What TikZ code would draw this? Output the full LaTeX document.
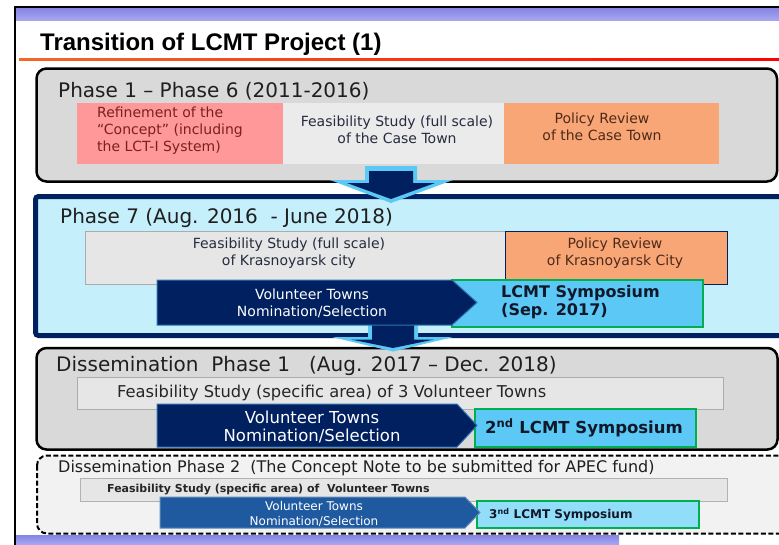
\documentclass[tikz,border=0pt]{standalone}
\usepackage{fontspec}
\setmainfont{DejaVu Sans}
\newfontfamily\titlefont{Liberation Sans}
\usetikzlibrary{calc}

\definecolor{navy}{HTML}{002060}
\definecolor{edgeblue}{HTML}{2E75B6}
\definecolor{midblue}{HTML}{1F5AA0}
\definecolor{skyblue}{HTML}{5BC8F5}
\definecolor{lightsky}{HTML}{92DDF8}
\definecolor{paleblue}{HTML}{C6EFFC}
\definecolor{phasegray}{HTML}{D9D9D9}
\definecolor{boxgray}{HTML}{E6E6E6}
\definecolor{lightgray}{HTML}{EBEBEB}
\definecolor{dashgray}{HTML}{F2F2F2}
\definecolor{salmon}{HTML}{F9A677}
\definecolor{rosebox}{HTML}{FF9999}
\definecolor{symgreen}{HTML}{00B050}
\definecolor{bandtop}{HTML}{8484E4}
\definecolor{bandbot}{HTML}{A6A6F0}
\definecolor{lineorange}{HTML}{F06A28}
\definecolor{textnavy}{HTML}{262C40}
\definecolor{darkred}{HTML}{7B1F1F}
\definecolor{darkbrown}{HTML}{4D2A1A}
\definecolor{symink}{HTML}{10182A}

\begin{document}
\begin{tikzpicture}[x=1pt, y=-1pt,
   plabel/.style={anchor=base west, inner sep=0pt, text=black!88, font=\fontsize{20}{24}\selectfont},
   intext/.style={inner sep=0pt, align=center, text=textnavy, font=\fontsize{14}{17}\selectfont},
   symtext/.style={inner sep=0pt, align=left, text=symink, font=\bfseries\fontsize{16}{18.5}\selectfont},
   voltext/.style={inner sep=0pt, align=center, text=white},
   phasebox/.style={draw=black, line width=2.5pt, fill=phasegray, rounded corners=10pt},
   greybox/.style={draw=gray!65, line width=0.8pt, fill=boxgray},
   symbox/.style={draw=symgreen, line width=2pt, fill=skyblue},
   volarrow/.style={draw=edgeblue, line width=1pt, fill=navy}]
   \useasboundingbox (0,0) rectangle (779,544);
   \fill[white] (0,0) rectangle (779,544);
   % slide frame and title
   \shade[top color=bandtop, bottom color=bandbot] (15.6,7.6) rectangle (790,20);
   \shade[top color=bandtop, bottom color=bandbot] (15.6,535) rectangle (619,544);
   \draw[line width=1.2pt] (15,546) -- (15,7) -- (790,7);
   \node (title) [anchor=base west, inner sep=0pt, font=\titlefont\bfseries\fontsize{24}{28}\selectfont] at (40,50) {Transition of LCMT Project (1)};
   \shade[left color=lineorange, right color=red] (19,58) rectangle (790,60.5);
   % phase frames
   \draw[phasebox] (36.5,68.5) rectangle (777,181.5);
   \draw[draw=navy, line width=5pt, fill=paleblue, rounded corners=3pt] (35.5,196.5) rectangle (795,335.5);
   \draw[phasebox] (36.5,348) rectangle (777.5,449.5);
   \draw[draw=black, line width=2pt, fill=dashgray, rounded corners=10pt, dash pattern=on 5pt off 2.5pt] (37,455.5) rectangle (795,533.5);
   % block arrows between phases
   \fill[skyblue] (365,166) -- (417,166) -- (417,180) -- (453,180) -- (391,203) -- (330,180) -- (365,180) -- cycle;
   \fill[navy] (369,171) -- (413,171) -- (413,183) -- (435,183) -- (391,199) -- (347,183) -- (369,183) -- cycle;
   \fill[skyblue] (368,318) -- (418,318) -- (418,337) -- (453,337) -- (393,351.5) -- (332,337) -- (368,337) -- cycle;
   \fill[navy] (372,318) -- (414,318) -- (414,339.5) -- (434,339.5) -- (393,348) -- (351,339.5) -- (372,339.5) -- cycle;
   % phase 1 - phase 6
   \node (p1) [plabel] at (58,97) {Phase 1 – Phase 6 (2011-2016)};
   \fill[rosebox] (77,103) rectangle (283,164);
   \fill[lightgray] (283,103) rectangle (504,164);
   \fill[salmon] (504,103) rectangle (719,164);
   \node (refine) [intext, anchor=west, align=left, text=darkred] at (97,131) {Refinement of the\\“Concept” (including\\the LCT-I System)};
   \node (fscase) [intext] at (397,130) {Feasibility Study (full scale)\\of the Case Town};
   \node (prcase) [intext, text=darkbrown] at (602,127) {Policy Review\\of the Case Town};
   % phase 7
   \node (p7) [plabel] at (60,223) {Phase 7 (Aug. 2016\ \ - June 2018)};
   \draw[greybox] (85,231) rectangle (505,284);
   \draw[fill=salmon, draw=navy, line width=0.8pt] (505,231) rectangle (727,284);
   \draw[symbox] (452,280) rectangle (703,327);
   \draw[volarrow] (157,280) -- (452,280) -- (477,302.5) -- (452,325) -- (157,325) -- cycle;
   \node (fskras) [intext] at (289,253) {Feasibility Study (full scale)\\of Krasnoyarsk city};
   \node (prkras) [intext, text=darkbrown] at (615,253) {Policy Review\\of Krasnoyarsk City};
   \node (vol7) [voltext, font=\fontsize{14}{17}\selectfont] at (312,303) {Volunteer Towns\\Nomination/Selection};
   \node (sym1) [symtext, anchor=west] at (501,302) {LCMT Symposium\\(Sep. 2017)};
   % dissemination phase 1
   \node (d1) [plabel] at (56,371) {Dissemination\ \ Phase 1\ \ \ (Aug. 2017 – Dec. 2018)};
   \draw[greybox] (77,377) rectangle (723,409);
   \draw[symbox] (475,409) rectangle (696,447);
   \draw[volarrow] (157,404) -- (457,404) -- (477,425.5) -- (457,447) -- (157,447) -- cycle;
   \node (fsthree) [intext, anchor=west, text=black!85, font=\fontsize{16.3}{19}\selectfont] at (117,393) {Feasibility Study (specific area) of 3 Volunteer Towns};
   \node (vol1) [voltext, font=\fontsize{16.5}{18}\selectfont] at (312,427) {Volunteer Towns\\Nomination/Selection};
   \node (sym2) [symtext, font=\bfseries\fontsize{16.5}{19}\selectfont] at (584,428) {2\textsuperscript{nd} LCMT Symposium};
   % dissemination phase 2
   \node (d2) [plabel, font=\fontsize{16}{19}\selectfont] at (58,472) {Dissemination Phase 2\ \ (The Concept Note to be submitted for APEC fund)};
   \draw[greybox, draw=gray!60] (80,478) rectangle (727,501);
   \draw[draw=symgreen, line width=1.5pt, fill=lightsky] (477,501) rectangle (699,528);
   \draw[volarrow, fill=midblue, draw=midblue!70!white] (160,497) -- (465,497) -- (480,512.5) -- (465,528) -- (160,528) -- cycle;
   \node (fsvol) [intext, anchor=west, text=black!85, font=\bfseries\fontsize{11}{13}\selectfont] at (107,490) {Feasibility Study (specific area) of\ \ Volunteer Towns};
   \node (vol2) [voltext, font=\fontsize{12}{15}\selectfont] at (314,514) {Volunteer Towns\\Nomination/Selection};
   \node (sym3) [symtext, anchor=west, font=\bfseries\fontsize{12}{14}\selectfont] at (489,515) {3\textsuperscript{nd} LCMT Symposium};
\end{tikzpicture}
\end{document}
